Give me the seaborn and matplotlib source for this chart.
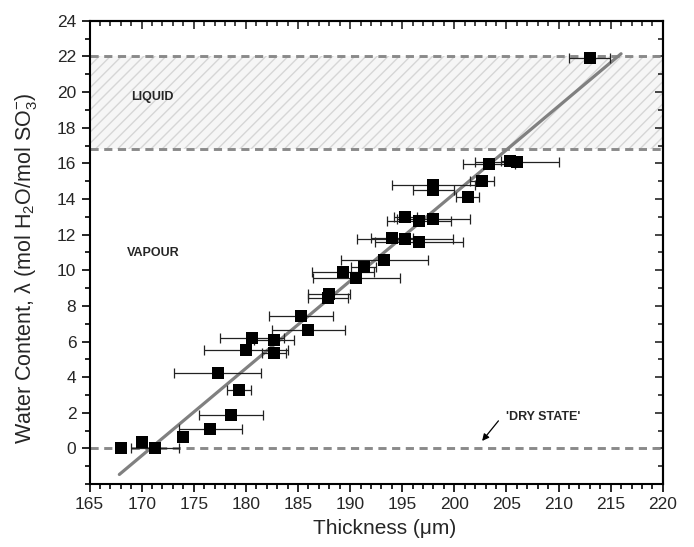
import numpy as np
import pandas as pd
import matplotlib
matplotlib.use("Agg")
import matplotlib.pyplot as plt
import seaborn as sns
from matplotlib.ticker import MultipleLocator

# ---- data ----
thickness = [168.0, 170.0, 171.3, 174.0, 176.6, 178.6, 179.3, 177.3, 180.0, 182.7,
             180.6, 182.7, 186.0, 185.3, 188.0, 187.9, 190.6, 189.3, 191.3, 193.3,
             194.0, 195.3, 196.6, 195.3, 196.6, 198.0, 201.3, 198.0, 198.0, 202.7,
             203.3, 205.3, 206.0, 213.0]
water = [0.0, 0.38, 0.0, 0.64, 1.10, 1.85, 3.28, 4.22, 5.50, 5.36,
         6.22, 6.10, 6.63, 7.42, 8.65, 8.45, 9.54, 9.88, 10.16, 10.60,
         11.79, 11.73, 11.60, 13.00, 12.76, 12.90, 14.13, 14.78, 14.50, 15.03,
         15.96, 16.13, 16.06, 21.90]
thickness_err = [0.0, 0.0, 2.3, 0.0, 3.0, 3.05, 1.15, 4.15, 4.0, 1.15,
                 3.05, 1.9, 3.5, 3.1, 2.0, 1.9, 4.15, 3.0, 1.2, 4.15,
                 2.0, 4.6, 4.2, 1.1, 3.1, 3.5, 1.1, 4.0, 2.0, 1.15,
                 2.5, 0.8, 4.0, 1.95]
fit_x = [167.86, 216.0]
fit_y = [-1.46, 22.15]
state_levels = [0.0, 16.8, 22.0]
liquid_band = (16.8, 22.0)
x_ticks = list(range(165, 221, 5))
y_ticks = list(range(0, 25, 2))

df = pd.DataFrame({"Thickness": thickness, "Water": water, "err": thickness_err})

sns.set_theme(style="ticks")
plt.rcParams["font.family"] = ["Liberation Sans", "DejaVu Sans"]
plt.rcParams["mathtext.fontset"] = "custom"
plt.rcParams["mathtext.rm"] = "Liberation Sans"
plt.rcParams["mathtext.it"] = "Liberation Sans:italic"
plt.rcParams["hatch.linewidth"] = 1.0

fig = plt.figure(figsize=(6.94, 5.47), dpi=100)
ax = fig.add_axes([0.129, 0.115, 0.826, 0.847])

# liquid band
ax.axhspan(liquid_band[0], liquid_band[1], facecolor="#f6f6f6", edgecolor="#d6d6d6",
           hatch="///", linewidth=0, zorder=0)

# dashed state lines
for lvl in state_levels:
    ax.axhline(lvl, color="#8a8a8a", lw=2.1, dashes=(2.8, 1.9), zorder=1)

# fit line
sns.lineplot(x=fit_x, y=fit_y, ax=ax, color="#808080", lw=2.3, zorder=2)

# error bars
ax.errorbar(df["Thickness"], df["Water"], xerr=df["err"], fmt="none",
            ecolor="#222222", elinewidth=0.9, capsize=3.5, capthick=0.9, zorder=3)

# markers
sns.scatterplot(data=df, x="Thickness", y="Water", ax=ax, marker="s", s=85,
                color="black", edgecolor="black", linewidth=0, zorder=4)

# texts
ax.text(169.0, 19.7, "LIQUID", fontsize=9, fontweight="bold", va="center", ha="left")
ax.text(168.6, 10.96, "VAPOUR", fontsize=9, fontweight="bold", va="center", ha="left")
ax.text(205.0, 1.74, "'DRY STATE'", fontsize=9, fontweight="bold", va="center", ha="left")
ax.annotate("", xy=(202.5, 0.3), xytext=(204.4, 1.67),
            arrowprops=dict(arrowstyle="-|>", color="black", lw=0.9,
                            mutation_scale=10))

ax.set_xlim(165, 220)
ax.set_ylim(-2, 24)
ax.set_xticks(x_ticks)
ax.set_yticks(y_ticks)
ax.xaxis.set_minor_locator(MultipleLocator(1))
ax.yaxis.set_minor_locator(MultipleLocator(1))
ax.tick_params(which="both", direction="out", top=False, right=False,
               labelsize=12.5, width=1.2, color="black")
ax.tick_params(which="major", length=6)
ax.tick_params(which="minor", length=3.5)

# inward ticks on top and right
top = ax.secondary_xaxis("top")
top.set_xticks(x_ticks)
top.xaxis.set_minor_locator(MultipleLocator(1))
top.tick_params(which="both", direction="in", labeltop=False, width=1.2)
top.tick_params(which="major", length=6)
top.tick_params(which="minor", length=3.5)
right = ax.secondary_yaxis("right")
right.set_yticks(y_ticks)
right.yaxis.set_minor_locator(MultipleLocator(1))
right.tick_params(which="both", direction="in", labelright=False, width=1.2)
right.tick_params(which="major", length=6)
right.tick_params(which="minor", length=3.5)
for sec in (top, right):
    for s in sec.spines.values():
        s.set_linewidth(1.5)

for s in ax.spines.values():
    s.set_linewidth(1.5)
    s.set_color("black")

ax.set_xlabel("Thickness (\u03bcm)", fontsize=15, labelpad=3)
ax.set_ylabel("Water Content, \u03bb (mol H$_2$O/mol SO$_3^{-}$)", fontsize=15.5)
ax.yaxis.set_label_coords(-0.088, 0.465)
ax.xaxis.set_label_coords(0.515, -0.075)
ax.grid(False)

fig.savefig("out.png", dpi=100)
